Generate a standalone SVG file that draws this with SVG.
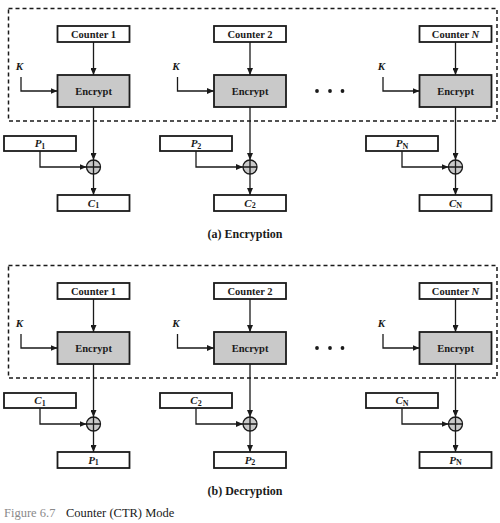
<svg xmlns="http://www.w3.org/2000/svg" width="500" height="523" viewBox="0 0 500 523">
<style>
.bx{fill:#fff;stroke:#1a1a1a;stroke-width:1.8}
.enc{fill:#c9c9c9;stroke:#1a1a1a;stroke-width:1.8}
.ln{fill:none;stroke:#1a1a1a;stroke-width:1.3}
.ar{fill:none;stroke:#1a1a1a;stroke-width:1.3;marker-end:url(#ah)}
.dash{fill:none;stroke:#1a1a1a;stroke-width:1.5;stroke-dasharray:4 3}
.xor{fill:#c9c9c9;stroke:#1a1a1a;stroke-width:1.3}
text{font-family:"Liberation Serif","Times New Roman",serif;fill:#1a1a1a}
.t{font-size:10.5px;font-weight:bold;text-anchor:middle}
.v{font-size:11px;font-weight:bold;font-style:italic;text-anchor:middle}
.s{font-size:8px;font-style:normal}
.cap{font-size:12px;font-weight:bold;text-anchor:middle}
</style>
<defs>
<marker id="ah" markerUnits="userSpaceOnUse" markerWidth="8" markerHeight="6" refX="7" refY="3" orient="auto">
<path d="M0,0 L7,3 L0,6 z" fill="#1a1a1a"/>
</marker>
</defs>

<!-- (a) Encryption -->
<g id="partA">
<rect id="a-frame" class="dash" x="8.5" y="8.5" width="488.5" height="112.5"/>
<g id="a-connectors">
<line class="ar" x1="93.5" y1="42" x2="93.5" y2="75"/>
<polyline class="ar" points="21,77 21,91 57.5,91"/>
<line class="ar" x1="93.5" y1="107" x2="93.5" y2="160"/>
<polyline class="ar" points="40,151 40,167 86.5,167"/>
<line class="ar" x1="93.5" y1="174" x2="93.5" y2="195"/>

<line class="ar" x1="250" y1="42" x2="250" y2="75"/>
<polyline class="ar" points="177.5,77 177.5,91 214,91"/>
<line class="ar" x1="250" y1="107" x2="250" y2="160"/>
<polyline class="ar" points="196,151 196,167 243,167"/>
<line class="ar" x1="250" y1="174" x2="250" y2="195"/>

<line class="ar" x1="455.5" y1="42" x2="455.5" y2="75"/>
<polyline class="ar" points="383,77 383,91 419.5,91"/>
<line class="ar" x1="455.5" y1="107" x2="455.5" y2="160"/>
<polyline class="ar" points="402,151 402,167 448.5,167"/>
<line class="ar" x1="455.5" y1="174" x2="455.5" y2="195"/>
</g>
<g id="a-counter1"><rect class="bx" x="57.5" y="26" width="72" height="16"/><text class="t" x="93.5" y="38">Counter 1</text></g>
<g id="a-counter2"><rect class="bx" x="214" y="26" width="72" height="16"/><text class="t" x="250" y="38">Counter 2</text></g>
<g id="a-counterN"><rect class="bx" x="419.5" y="26" width="72" height="16"/><text class="t" x="455.5" y="38">Counter <tspan font-style="italic">N</tspan></text></g>
<g id="a-k1"><text class="v" x="19.5" y="70">K</text></g>
<g id="a-k2"><text class="v" x="176" y="70">K</text></g>
<g id="a-kN"><text class="v" x="381.5" y="70">K</text></g>
<g id="a-enc1"><rect class="enc" x="57.5" y="75" width="72" height="32"/><text class="t" x="93.5" y="94.5">Encrypt</text></g>
<g id="a-enc2"><rect class="enc" x="214" y="75" width="72" height="32"/><text class="t" x="250" y="94.5">Encrypt</text></g>
<g id="a-encN"><rect class="enc" x="419.5" y="75" width="72" height="32"/><text class="t" x="455.5" y="94.5">Encrypt</text></g>
<g id="a-dots" fill="#1a1a1a"><circle cx="317" cy="91" r="1.9"/><circle cx="330" cy="91" r="1.9"/><circle cx="342.5" cy="91" r="1.9"/></g>
<g id="a-p1"><rect class="bx" x="4" y="136" width="72" height="15"/><text class="v" x="40" y="147">P<tspan class="s" dy="1.5">1</tspan></text></g>
<g id="a-p2"><rect class="bx" x="160" y="136" width="72" height="15"/><text class="v" x="196" y="147">P<tspan class="s" dy="1.5">2</tspan></text></g>
<g id="a-pN"><rect class="bx" x="366" y="136" width="72" height="15"/><text class="v" x="402" y="147">P<tspan class="s" dy="1.5" font-style="italic">N</tspan></text></g>
<g id="a-xor1"><circle class="xor" cx="93.5" cy="167" r="7"/><path class="ln" d="M86.5,167 H100.5 M93.5,160 V174"/></g>
<g id="a-xor2"><circle class="xor" cx="250" cy="167" r="7"/><path class="ln" d="M243,167 H257 M250,160 V174"/></g>
<g id="a-xorN"><circle class="xor" cx="455.5" cy="167" r="7"/><path class="ln" d="M448.5,167 H462.5 M455.5,160 V174"/></g>
<g id="a-c1"><rect class="bx" x="57.5" y="195" width="72" height="16"/><text class="v" x="93.5" y="206.5">C<tspan class="s" dy="1.5">1</tspan></text></g>
<g id="a-c2"><rect class="bx" x="214" y="195" width="72" height="16"/><text class="v" x="250" y="206.5">C<tspan class="s" dy="1.5">2</tspan></text></g>
<g id="a-cN"><rect class="bx" x="419.5" y="195" width="72" height="16"/><text class="v" x="455.5" y="206.5">C<tspan class="s" dy="1.5" font-style="italic">N</tspan></text></g>
<text class="cap" x="245" y="238">(a) Encryption</text>
</g>

<!-- (b) Decryption -->
<g id="partB" transform="translate(0,257)">
<rect id="b-frame" class="dash" x="8.5" y="8.5" width="488.5" height="112.5"/>
<g id="b-connectors">
<line class="ar" x1="93.5" y1="42" x2="93.5" y2="75"/>
<polyline class="ar" points="21,77 21,91 57.5,91"/>
<line class="ar" x1="93.5" y1="107" x2="93.5" y2="160"/>
<polyline class="ar" points="40,151 40,167 86.5,167"/>
<line class="ar" x1="93.5" y1="174" x2="93.5" y2="195"/>

<line class="ar" x1="250" y1="42" x2="250" y2="75"/>
<polyline class="ar" points="177.5,77 177.5,91 214,91"/>
<line class="ar" x1="250" y1="107" x2="250" y2="160"/>
<polyline class="ar" points="196,151 196,167 243,167"/>
<line class="ar" x1="250" y1="174" x2="250" y2="195"/>

<line class="ar" x1="455.5" y1="42" x2="455.5" y2="75"/>
<polyline class="ar" points="383,77 383,91 419.5,91"/>
<line class="ar" x1="455.5" y1="107" x2="455.5" y2="160"/>
<polyline class="ar" points="402,151 402,167 448.5,167"/>
<line class="ar" x1="455.5" y1="174" x2="455.5" y2="195"/>
</g>
<g id="b-counter1"><rect class="bx" x="57.5" y="26" width="72" height="16"/><text class="t" x="93.5" y="38">Counter 1</text></g>
<g id="b-counter2"><rect class="bx" x="214" y="26" width="72" height="16"/><text class="t" x="250" y="38">Counter 2</text></g>
<g id="b-counterN"><rect class="bx" x="419.5" y="26" width="72" height="16"/><text class="t" x="455.5" y="38">Counter <tspan font-style="italic">N</tspan></text></g>
<g id="b-k1"><text class="v" x="19.5" y="70">K</text></g>
<g id="b-k2"><text class="v" x="176" y="70">K</text></g>
<g id="b-kN"><text class="v" x="381.5" y="70">K</text></g>
<g id="b-enc1"><rect class="enc" x="57.5" y="75" width="72" height="32"/><text class="t" x="93.5" y="94.5">Encrypt</text></g>
<g id="b-enc2"><rect class="enc" x="214" y="75" width="72" height="32"/><text class="t" x="250" y="94.5">Encrypt</text></g>
<g id="b-encN"><rect class="enc" x="419.5" y="75" width="72" height="32"/><text class="t" x="455.5" y="94.5">Encrypt</text></g>
<g id="b-dots" fill="#1a1a1a"><circle cx="317" cy="91" r="1.9"/><circle cx="330" cy="91" r="1.9"/><circle cx="342.5" cy="91" r="1.9"/></g>
<g id="b-c1"><rect class="bx" x="4" y="136" width="72" height="15"/><text class="v" x="40" y="147">C<tspan class="s" dy="1.5">1</tspan></text></g>
<g id="b-c2"><rect class="bx" x="160" y="136" width="72" height="15"/><text class="v" x="196" y="147">C<tspan class="s" dy="1.5">2</tspan></text></g>
<g id="b-cN"><rect class="bx" x="366" y="136" width="72" height="15"/><text class="v" x="402" y="147">C<tspan class="s" dy="1.5" font-style="italic">N</tspan></text></g>
<g id="b-xor1"><circle class="xor" cx="93.5" cy="167" r="7"/><path class="ln" d="M86.5,167 H100.5 M93.5,160 V174"/></g>
<g id="b-xor2"><circle class="xor" cx="250" cy="167" r="7"/><path class="ln" d="M243,167 H257 M250,160 V174"/></g>
<g id="b-xorN"><circle class="xor" cx="455.5" cy="167" r="7"/><path class="ln" d="M448.5,167 H462.5 M455.5,160 V174"/></g>
<g id="b-p1"><rect class="bx" x="57.5" y="195" width="72" height="16"/><text class="v" x="93.5" y="206.5">P<tspan class="s" dy="1.5">1</tspan></text></g>
<g id="b-p2"><rect class="bx" x="214" y="195" width="72" height="16"/><text class="v" x="250" y="206.5">P<tspan class="s" dy="1.5">2</tspan></text></g>
<g id="b-pN"><rect class="bx" x="419.5" y="195" width="72" height="16"/><text class="v" x="455.5" y="206.5">P<tspan class="s" dy="1.5" font-style="italic">N</tspan></text></g>
<text class="cap" x="245" y="238">(b) Decryption</text>
</g>

<g id="caption">
<text x="4" y="517" font-size="12.5" style="fill:#8a8a8a">Figure 6.7</text>
<text x="66" y="517" font-size="12.5">Counter (CTR) Mode</text>
</g>
</svg>
